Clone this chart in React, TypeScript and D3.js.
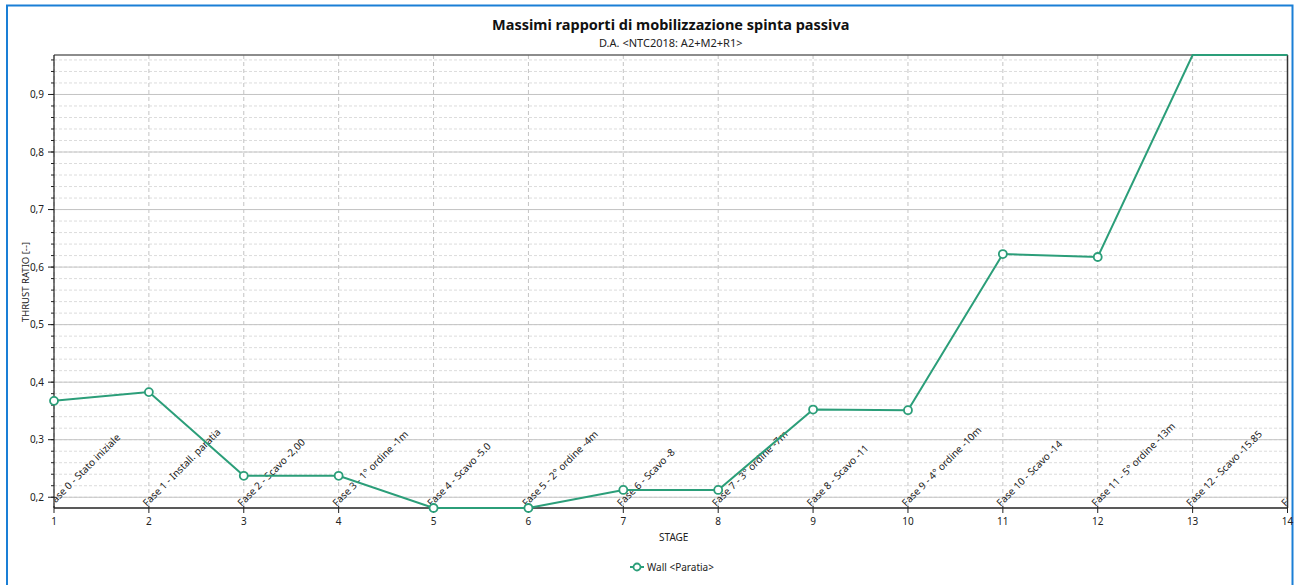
import * as d3 from "d3";

// ---------------------------------------------------------------------------
// Data
// ---------------------------------------------------------------------------

const stages = [1, 2, 3, 4, 5, 6, 7, 8, 9, 10, 11, 12, 13, 14];

const phaseLabels = [
  "Fase 0 - Stato iniziale",
  "Fase 1 - Install. paratia",
  "Fase 2 - Scavo -2,00",
  "Fase 3 - 1° ordine -1m",
  "Fase 4 - Scavo -5.0",
  "Fase 5 - 2° ordine -4m",
  "Fase 6 - Scavo -8",
  "Fase 7 - 3° ordine -7m",
  "Fase 8 - Scavo -11",
  "Fase 9 - 4° ordine -10m",
  "Fase 10 - Scavo -14",
  "Fase 11 - 5° ordine -13m",
  "Fase 12 - Scavo -15.85",
  "Fase 13 - Scavo -15.85",
];

const thrustRatio = [
  0.3675, 0.3827, 0.2372, 0.2372, 0.1813, 0.1813, 0.2127, 0.2127, 0.3524,
  0.3513, 0.6227, 0.6175, 0.9686, 0.9686,
];

const majorTicks = [0.2, 0.3, 0.4, 0.5, 0.6, 0.7, 0.8, 0.9];

const TITLE = "Massimi rapporti di mobilizzazione spinta passiva";
const SUBTITLE = "D.A. <NTC2018: A2+M2+R1>";
const X_LABEL = "STAGE";
const Y_LABEL = "THRUST RATIO [--]";
const SERIES_NAME = "Wall <Paratia>";

// ---------------------------------------------------------------------------
// Layout
// ---------------------------------------------------------------------------

const W = 1295;
const H = 585;
const M = { left: 54, right: 1287.5, top: 55, bottom: 508 };
const FONT = "'Noto Sans', 'Open Sans', sans-serif";
const GREEN = "#2b9e79";
const TEXT = "#222";

export default function App() {
  const x = d3
    .scaleLinear()
    .domain(d3.extent(stages) as [number, number])
    .range([M.left, M.right]);
  const yDomain = d3.extent(thrustRatio) as [number, number];
  const y = d3.scaleLinear().domain(yDomain).range([M.bottom, M.top]);

  const minorTicks = d3
    .range(0.18, 1.0, 0.02)
    .map((v) => +v.toFixed(2))
    .filter((v) => v >= yDomain[0] && v <= yDomain[1]);

  const fmt = (v: number) => d3.format(".1f")(v).replace(".", ",");

  const points = stages.map((s, i) => ({ s, v: thrustRatio[i] }));
  const line = d3
    .line<{ s: number; v: number }>()
    .x((d) => x(d.s))
    .y((d) => y(d.v));

  const cx = (M.left + M.right) / 2;

  return (
    <svg
      width={W}
      height={H}
      style={{ position: "absolute", left: 0, top: 0, fontFamily: FONT }}
    >
      <rect x={0} y={0} width={W} height={H} fill="#fff" />
      {/* blue frame */}
      <rect
        x={7}
        y={5.5}
        width={1285.5}
        height={H + 10}
        fill="none"
        stroke="#1a7fd6"
        strokeWidth={2}
      />

      <defs>
        <clipPath id="plotClip">
          <rect
            x={M.left}
            y={M.top}
            width={M.right - M.left}
            height={M.bottom - M.top}
          />
        </clipPath>
      </defs>

      {/* title */}
      <text
        x={cx}
        y={30}
        textAnchor="middle"
        fontSize={14.5}
        fontWeight="bold"
        fill="#111"
      >
        {TITLE}
      </text>
      <text x={cx} y={47} textAnchor="middle" fontSize={11} fill={TEXT}>
        {SUBTITLE}
      </text>

      {/* minor horizontal grid */}
      {minorTicks.map((t) => (
        <line
          key={"mg" + t}
          x1={M.left}
          x2={M.right}
          y1={y(t)}
          y2={y(t)}
          stroke="#dcdcdc"
          strokeWidth={1}
          strokeDasharray="3,2"
        />
      ))}
      {/* major horizontal grid */}
      {majorTicks.map((t) => (
        <line
          key={"Mg" + t}
          x1={M.left}
          x2={M.right}
          y1={y(t)}
          y2={y(t)}
          stroke="#c4c4c4"
          strokeWidth={1}
        />
      ))}
      {/* vertical grid */}
      {stages.map((s) => (
        <line
          key={"vg" + s}
          x1={x(s)}
          x2={x(s)}
          y1={M.top}
          y2={M.bottom}
          stroke="#c4c4c4"
          strokeWidth={1}
          strokeDasharray="4,3"
        />
      ))}

      {/* rotated phase labels, clipped to the plot like the original */}
      <g clipPath="url(#plotClip)">
        {stages.map((s, i) => (
          <text
            key={"pl" + s}
            transform={`translate(${x(s) - 2},${M.bottom - 1}) rotate(-45)`}
            fontSize={10}
            fill={TEXT}
          >
            {phaseLabels[i]}
          </text>
        ))}
      </g>

      {/* frame */}
      <line x1={M.left} x2={M.right} y1={M.top} y2={M.top} stroke="#666" strokeWidth={1.5} />
      <line x1={M.right} x2={M.right} y1={M.top} y2={M.bottom} stroke="#333" strokeWidth={1.5} />
      <line x1={M.left} x2={M.left} y1={M.top} y2={M.bottom} stroke="#222" strokeWidth={1.2} />
      <line x1={M.left} x2={M.right} y1={M.bottom} y2={M.bottom} stroke="#222" strokeWidth={1.5} />

      {/* y ticks */}
      {minorTicks.map((t) => (
        <line key={"mt" + t} x1={M.left - 3} x2={M.left} y1={y(t)} y2={y(t)} stroke="#222" />
      ))}
      {majorTicks.map((t) => (
        <g key={"yt" + t}>
          <line x1={M.left - 6} x2={M.left} y1={y(t)} y2={y(t)} stroke="#222" />
          <text
            x={M.left - 10}
            y={y(t)}
            dy="0.35em"
            textAnchor="end"
            fontSize={10}
            fill={TEXT}
          >
            {fmt(t)}
          </text>
        </g>
      ))}

      {/* x ticks */}
      {stages.map((s) => (
        <g key={"xt" + s}>
          <line x1={x(s)} x2={x(s)} y1={M.bottom - 2} y2={M.bottom + 5} stroke="#222" />
          <text x={x(s)} y={525} textAnchor="middle" fontSize={10} fill={TEXT}>
            {s}
          </text>
        </g>
      ))}

      {/* axis titles */}
      <text x={cx + 3} y={541} textAnchor="middle" fontSize={10} fill={TEXT}>
        {X_LABEL}
      </text>
      <text
        transform={`translate(29,282) rotate(-90)`}
        textAnchor="middle"
        fontSize={9.5}
        fill={TEXT}
      >
        {Y_LABEL}
      </text>

      {/* series */}
      <path d={line(points) ?? ""} fill="none" stroke={GREEN} strokeWidth={2} />
      {points
        .filter((d) => d.v < yDomain[1])
        .map((d) => (
          <circle
            key={"pt" + d.s}
            cx={x(d.s)}
            cy={y(d.v)}
            r={4}
            fill="#fff"
            stroke={GREEN}
            strokeWidth={1.8}
          />
        ))}

      {/* legend */}
      <g transform="translate(630,567)">
        <line x1={0} x2={14} y1={0} y2={0} stroke={GREEN} strokeWidth={2} />
        <circle cx={7} cy={0} r={3.5} fill="#fff" stroke={GREEN} strokeWidth={1.8} />
        <text x={17} y={0} dy="0.35em" fontSize={10} fill={TEXT}>
          {SERIES_NAME}
        </text>
      </g>
    </svg>
  );
}
